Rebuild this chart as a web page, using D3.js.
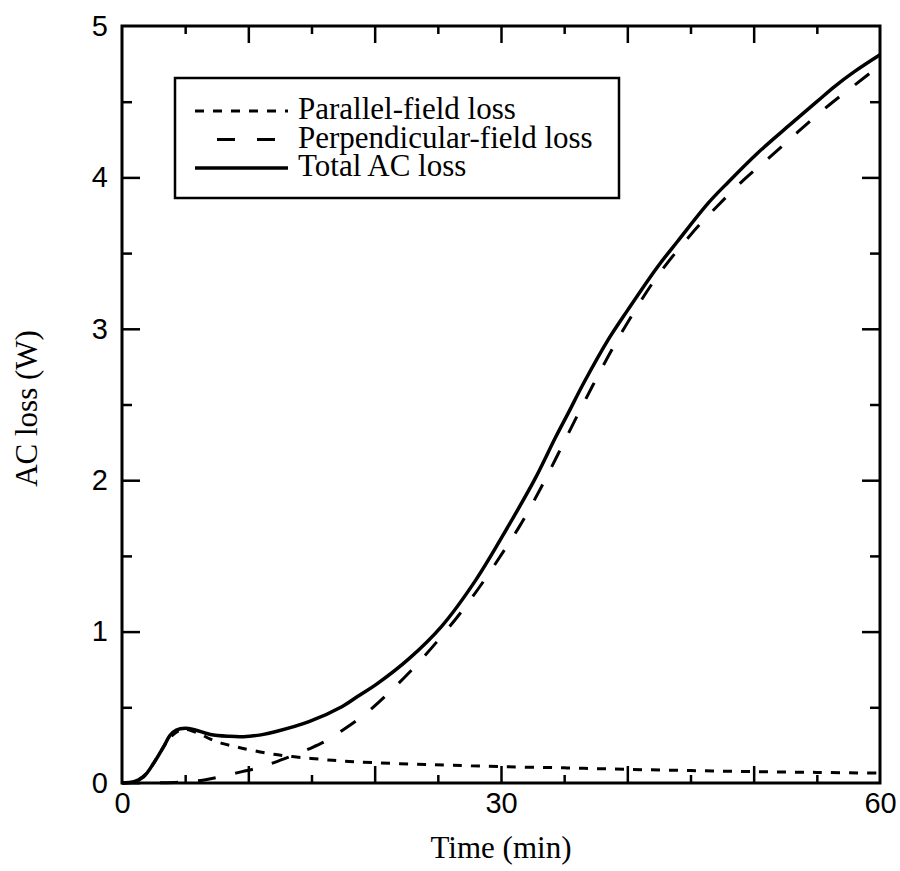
<!DOCTYPE html>
<html>
<head>
<meta charset="utf-8">
<script src="https://cdn.jsdelivr.net/npm/d3@7"></script>
<style>
  body { margin: 0; background: #fff; }
  svg { display: block; }
</style>
</head>
<body>
<script>
'use strict';

// time (min) and losses (W)
const parallelT = [0, 1, 2, 3, 3.8, 4.5, 5, 6, 7, 8, 9.5, 12, 15, 17.5, 20, 23, 26, 30, 35, 40, 45, 50, 55, 60];
const parallelV = [0, 0.01, 0.07, 0.2, 0.3, 0.345, 0.355, 0.33, 0.29, 0.26, 0.23, 0.19, 0.162, 0.145, 0.134, 0.125, 0.117, 0.108, 0.1, 0.09, 0.082, 0.075, 0.07, 0.065];

const perpT = [0, 3, 5, 6.5, 8, 9.5, 11, 12.2, 13.5, 14.8, 16.2, 17.4, 18.7, 19.4, 21.3, 23.2, 25.1, 26.9, 28.6, 30.2, 31.5, 33.1, 34.5, 36, 38.5, 40.3, 42.4, 45, 47, 49.3, 51.5, 53.5, 56, 58, 60];
const perpV = [0, 0.002, 0.008, 0.02, 0.045, 0.075, 0.105, 0.14, 0.18, 0.225, 0.28, 0.345, 0.42, 0.465, 0.61, 0.77, 0.95, 1.135, 1.33, 1.53, 1.7, 1.94, 2.17, 2.42, 2.82, 3.08, 3.35, 3.62, 3.8, 3.99, 4.15, 4.3, 4.48, 4.61, 4.74];

const totalT = [0, 1, 1.7, 2.5, 3.3, 3.8, 4.3, 5, 5.8, 7, 8.5, 9.6, 11, 12.2, 14.8, 17.4, 18.8, 20.1, 22.7, 25.3, 28, 30.6, 32.7, 34.3, 35.3, 36.6, 38.5, 40, 42.4, 44, 46.4, 48, 50.3, 52.9, 55, 56.4, 58, 60];
const totalV = [0, 0.01, 0.04, 0.13, 0.24, 0.315, 0.35, 0.362, 0.35, 0.32, 0.308, 0.306, 0.318, 0.34, 0.405, 0.504, 0.58, 0.65, 0.82, 1.035, 1.34, 1.7, 2.01, 2.28, 2.44, 2.65, 2.93, 3.12, 3.41, 3.58, 3.83, 3.97, 4.16, 4.35, 4.5, 4.6, 4.7, 4.81];

const seriesNames = ['Parallel-field loss', 'Perpendicular-field loss', 'Total AC loss'];
const xTickLabels = [0, 30, 60];
const yTickLabels = [0, 1, 2, 3, 4, 5];

const W = 900, H = 871;
const margin = {left: 122, right: 20, top: 26, bottom: 88};
const SERIF = '"Liberation Serif", "Times New Roman", serif';
const SANS = '"Liberation Sans", Arial, sans-serif';

const svg = d3.select('body').append('svg')
    .attr('width', W)
    .attr('height', H);

const x = d3.scaleLinear().domain([0, 60]).range([margin.left, W - margin.right]);
const y = d3.scaleLinear().domain([0, 5]).range([H - margin.bottom, margin.top]);

const x0 = x.range()[0], x1 = x.range()[1];
const y0 = y.range()[0], y1 = y.range()[1];

// ticks, pointing in, on all four sides
const xMajor = d3.range(10, 60, 10), xMinor = d3.range(5, 60, 10);
const yMajor = d3.range(1, 5, 1), yMinor = d3.range(0.5, 5, 1);

function tickAxis(axisFn, scale, values, size, tx, ty) {
    svg.append('g')
        .attr('transform', `translate(${tx},${ty})`)
        .call(axisFn(scale).tickValues(values).tickSize(-size).tickFormat(''))
        .call(g => g.select('.domain').remove())
        .call(g => g.selectAll('line').attr('stroke', '#000').attr('stroke-width', 2.5));
}
tickAxis(d3.axisBottom, x, xMajor, 17, 0, y0);
tickAxis(d3.axisBottom, x, xMinor, 8, 0, y0);
tickAxis(d3.axisTop, x, xMajor, 17, 0, y1);
tickAxis(d3.axisTop, x, xMinor, 8, 0, y1);
tickAxis(d3.axisLeft, y, yMajor, 18, x0, 0);
tickAxis(d3.axisLeft, y, yMinor, 10, x0, 0);
tickAxis(d3.axisRight, y, yMajor, 18, x1, 0);
tickAxis(d3.axisRight, y, yMinor, 10, x1, 0);

// tick labels
svg.append('g')
    .attr('transform', `translate(0,${y0})`)
    .call(d3.axisBottom(x).tickValues(xTickLabels).tickSize(0).tickPadding(9).tickFormat(d3.format('d')))
    .call(g => g.select('.domain').remove())
    .selectAll('text')
        .attr('fill', '#000')
        .attr('font-family', SANS)
        .attr('font-size', 29);

svg.append('g')
    .attr('transform', `translate(${x0},0)`)
    .call(d3.axisLeft(y).tickValues(yTickLabels).tickSize(0).tickPadding(14).tickFormat(d3.format('d')))
    .call(g => g.select('.domain').remove())
    .selectAll('text')
        .attr('fill', '#000')
        .attr('font-family', SANS)
        .attr('font-size', 29);

// axis titles
svg.append('text')
    .attr('x', x(30))
    .attr('y', 858)
    .attr('text-anchor', 'middle')
    .attr('font-family', SERIF)
    .attr('font-size', 31)
    .text('Time (min)');

svg.append('text')
    .attr('transform', `translate(37,${(y0 + y1) / 2 + 4}) rotate(-90)`)
    .attr('text-anchor', 'middle')
    .attr('font-family', SERIF)
    .attr('font-size', 31)
    .text('AC loss (W)');

// curves
const line = d3.line()
    .x(d => x(d[0]))
    .y(d => y(d[1]))
    .curve(d3.curveCatmullRom.alpha(0.5));

const styles = [
    {dash: '9,9', width: 3},
    {dash: '18,20', width: 3},
    {dash: null, width: 3.5}
];
const series = [
    d3.zip(parallelT, parallelV),
    d3.zip(perpT, perpV),
    d3.zip(totalT, totalV)
];

svg.append('g')
    .selectAll('path')
    .data(series)
    .join('path')
        .attr('d', line)
        .attr('fill', 'none')
        .attr('stroke', '#000')
        .attr('stroke-width', (d, i) => styles[i].width)
        .attr('stroke-dasharray', (d, i) => styles[i].dash);

// frame
svg.append('rect')
    .attr('x', x0)
    .attr('y', y1)
    .attr('width', x1 - x0)
    .attr('height', y0 - y1)
    .attr('fill', 'none')
    .attr('stroke', '#000')
    .attr('stroke-width', 3);

// legend
const legend = svg.append('g').attr('transform', 'translate(175,78)');
legend.append('rect')
    .attr('width', 444)
    .attr('height', 120)
    .attr('fill', '#fff')
    .attr('stroke', '#000')
    .attr('stroke-width', 2.5);

const rows = legend.selectAll('g.row')
    .data(seriesNames)
    .join('g')
        .attr('class', 'row')
        .attr('transform', (d, i) => `translate(0,${33 + i * 28.5})`);

rows.append('line')
    .attr('x1', 20)
    .attr('x2', 113)
    .attr('stroke', '#000')
    .attr('stroke-width', (d, i) => styles[i].width)
    .attr('stroke-dasharray', (d, i) => i === 1 ? '18,22' : styles[i].dash)
    .attr('stroke-dashoffset', (d, i) => i === 1 ? 40 - 22 : 0);

rows.append('text')
    .attr('x', 123)
    .attr('y', 8)
    .attr('font-family', SERIF)
    .attr('font-size', 31)
    .text(d => d);
</script>
</body>
</html>
